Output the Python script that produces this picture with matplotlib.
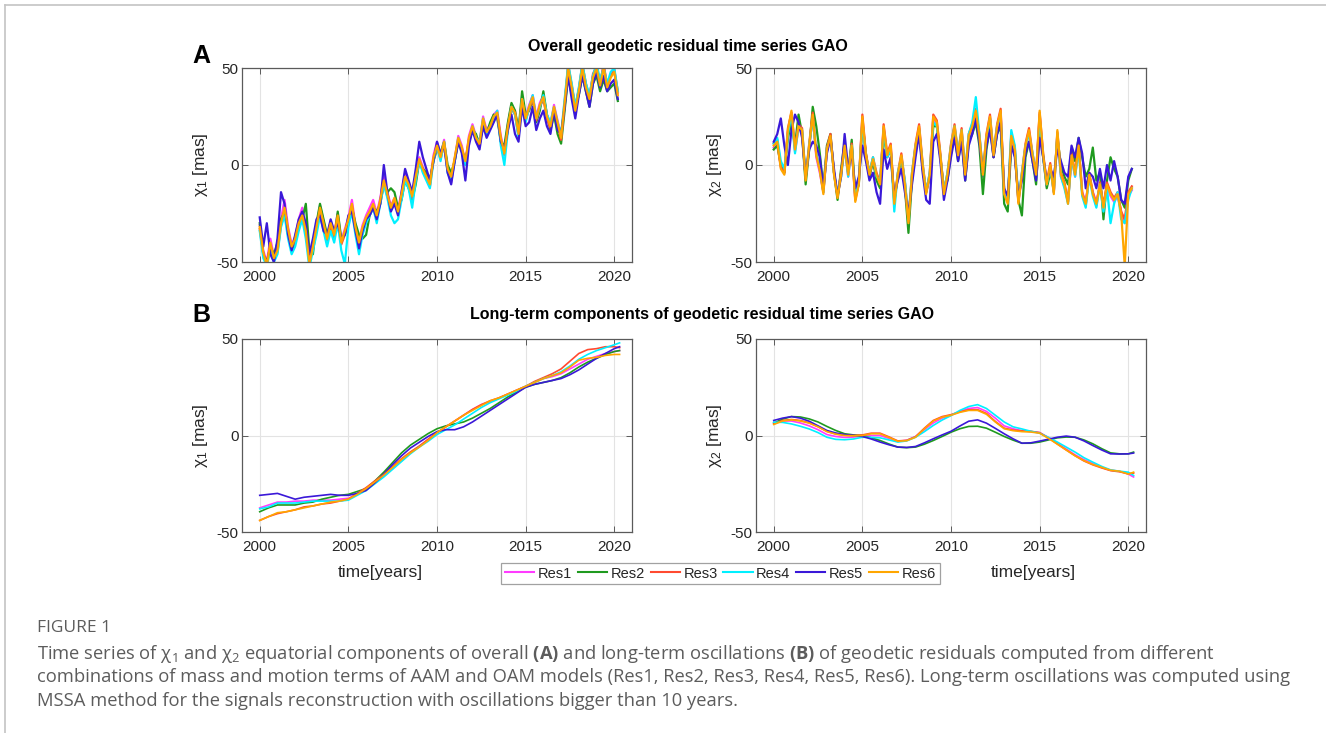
import numpy as np
import matplotlib
matplotlib.use('Agg')
import matplotlib.pyplot as plt
from matplotlib.lines import Line2D

# time axes
t_res = np.round(np.arange(2000.0, 2020.21, 0.2), 1)       # overall series
t_lt = np.append(np.arange(2000.0, 2020.01, 0.5), 2020.3)   # long-term components

names = ['Res1', 'Res2', 'Res3', 'Res4', 'Res5', 'Res6']
colors = ['#ff3cff', '#1f9a1f', '#ff4a30', '#00f0ff', '#3a18d8', '#ffa600']

# overall geodetic residuals, chi1 [mas]
res1_x1 = [-31, -44, -50, -38, -47, -43, -28, -18, -32, -41,
           -37, -28, -22, -33, -48, -41, -31, -21, -29, -37,
           -29, -35, -25, -39, -33, -27, -18, -31, -39, -31,
           -26, -22, -18, -25, -17, -6, -14, -21, -17, -23,
           -14, -4, -9, -15, -5, 4, -1, -5, -9, 5,
           12, 5, 13, -3, -9, 3, 15, 10, 1, 15,
           21, 15, 12, 25, 18, 21, 26, 28, 15, 7,
           21, 31, 28, 17, 35, 25, 31, 36, 25, 32,
           36, 26, 21, 31, 23, 15, 33, 50, 41, 29,
           39, 51, 41, 35, 46, 51, 42, 51, 41, 46,
           49, 37]
res2_x1 = [-30, -46, -50, -42, -46, -40, -28, -24, -36, -44,
           -40, -32, -28, -20, -44, -46, -30, -20, -28, -36,
           -32, -38, -24, -38, -36, -30, -22, -30, -36, -38,
           -36, -26, -22, -24, -20, -10, -14, -12, -14, -22,
           -18, -8, -12, -18, -10, 2, -2, -4, -8, 2,
           8, 6, 12, 0, -4, 2, 12, 8, 2, 12,
           18, 16, 10, 22, 16, 22, 26, 24, 12, 10,
           22, 32, 28, 18, 38, 26, 28, 34, 22, 28,
           38, 26, 18, 26, 16, 11, 28, 46, 36, 30,
           36, 46, 38, 30, 42, 46, 38, 44, 38, 40,
           42, 33]
res3_x1 = [-33, -46, -51, -41, -49, -45, -31, -24, -34, -43,
           -39, -31, -27, -35, -50, -43, -33, -24, -31, -39,
           -31, -37, -28, -41, -36, -29, -21, -33, -41, -33,
           -28, -25, -21, -27, -19, -9, -16, -23, -18, -25,
           -16, -7, -11, -17, -7, 2, -3, -7, -11, 3,
           9, 3, 11, -3, -7, 3, 13, 8, 1, 13,
           19, 13, 10, 23, 16, 19, 24, 26, 13, 5,
           19, 29, 26, 15, 33, 23, 29, 34, 23, 30,
           34, 24, 19, 29, 21, 13, 31, 52, 41, 30,
           39, 52, 42, 35, 47, 51, 42, 52, 41, 46,
           49, 38]
res4_x1 = [-34, -48, -52, -44, -50, -46, -32, -26, -38, -46,
           -42, -34, -28, -38, -53, -44, -36, -26, -34, -42,
           -34, -40, -30, -44, -51, -32, -24, -36, -46, -36,
           -30, -26, -22, -30, -20, -10, -17, -26, -30, -28,
           -18, -8, -12, -22, -8, 2, -4, -8, -12, 2,
           10, 2, 12, -4, -8, 2, 14, 8, 0, 12,
           20, 14, 12, 24, 16, 20, 24, 28, 10, 0,
           18, 30, 26, 14, 34, 22, 30, 36, 24, 30,
           36, 26, 22, 30, 22, 16, 34, 52, 42, 30,
           40, 52, 42, 36, 46, 52, 44, 50, 42, 48,
           50, 38]
res5_x1 = [-27, -42, -30, -46, -50, -38, -14, -20, -36, -44,
           -36, -28, -24, -30, -46, -38, -28, -26, -34, -36,
           -28, -34, -30, -38, -36, -26, -24, -34, -43, -34,
           -28, -26, -22, -28, -20, 0, -14, -24, -20, -26,
           -14, -2, -8, -14, -2, 12, 4, -2, -8, 2,
           12, 6, 10, -4, -10, 2, 12, 6, -8, 10,
           18, 12, 8, 20, 14, 18, 22, 26, 12, 8,
           18, 26, 16, 12, 30, 20, 22, 30, 18, 24,
           28, 20, 16, 28, 18, 16, 30, 46, 34, 24,
           36, 46, 38, 30, 42, 48, 40, 46, 38, 42,
           44, 34]
res6_x1 = [-32, -45, -52, -40, -48, -44, -30, -22, -33, -42,
           -38, -30, -26, -34, -51, -42, -32, -22, -30, -38,
           -30, -36, -26, -40, -34, -28, -20, -32, -40, -32,
           -27, -24, -20, -26, -18, -8, -15, -22, -17, -24,
           -15, -6, -10, -16, -6, 3, -2, -6, -10, 4,
           10, 4, 12, -2, -6, 4, 14, 9, 2, 14,
           20, 14, 11, 24, 17, 20, 25, 27, 14, 6,
           20, 30, 27, 16, 34, 24, 30, 35, 24, 31,
           35, 25, 20, 30, 22, 14, 32, 50, 40, 28,
           38, 50, 40, 34, 45, 50, 41, 50, 40, 45,
           48, 36]

# overall geodetic residuals, chi2 [mas]
res1_x2 = [9, 11, -1, -4, 17, 27, 7, 19, 17, -7,
           9, 25, 4, -4, -14, 7, 14, -4, -16, -4,
           9, -6, 9, -18, -9, 24, 4, -6, 2, -6,
           -9, 19, 4, 9, -19, -6, 4, -9, -28, -6,
           9, 19, -1, -14, -6, 24, 21, 4, -14, -6,
           9, 19, 4, 17, -6, 14, 19, 27, 14, -6,
           14, 24, 4, 19, 27, -14, -19, 14, 7, -19,
           -6, 9, 17, 4, -6, 26, 4, -11, -1, -14,
           16, -6, -11, -19, 4, -6, 9, -14, -19, -6,
           -14, -19, -11, -21, -11, -16, -19, -16, -24, -30,
           -16, -13]
res2_x2 = [8, 10, 0, -4, 14, 22, 10, 26, 16, -10,
           8, 30, 20, 6, -12, 10, 16, -4, -18, -2,
           12, -4, 13, -16, -10, 22, 6, -6, 2, -8,
           -12, 16, 4, 8, -18, -6, 4, -12, -35, -8,
           8, 18, -2, -14, -6, 20, 20, 4, -12, -8,
           6, 16, 2, 14, -8, 12, 16, 22, 10, -15,
           8, 20, 4, 16, 20, -20, -24, 10, 6, -18,
           -26, 4, 12, 2, -10, 20, 4, -12, -4, -10,
           14, 0, -6, -10, 8, 2, 14, 4, -6, -2,
           9, -8, -4, -28, -8, 4, -2, -6, -18, -22,
           -8, -2]
res3_x2 = [11, 13, -1, -4, 19, 27, 9, 21, 19, -7,
           11, 27, 6, -2, -14, 9, 16, -4, -16, -4,
           11, -4, 11, -18, -9, 26, 6, -4, 4, -4,
           -9, 21, 6, 11, -19, -4, 6, -9, -29, -4,
           11, 21, 1, -14, -4, 26, 23, 6, -14, -4,
           11, 21, 6, 19, -4, 16, 21, 29, 16, -4,
           16, 26, 6, 21, 29, -14, -19, 16, 9, -19,
           -4, 11, 19, 6, -4, 27, 6, -9, 1, -14,
           17, -4, -9, -19, 6, -4, 11, -14, -21, -4,
           -14, -21, -9, -21, -9, -14, -17, -14, -24, -28,
           -14, -11]
res4_x2 = [11, 14, 2, -2, 16, 26, 6, 20, 18, -6,
           10, 24, 6, -2, -14, 8, 14, -4, -15, -6,
           10, -6, 10, -16, -8, 22, 4, -4, 4, -6,
           -8, 18, 4, 8, -24, -4, 4, -8, -28, -4,
           10, 18, 0, -14, -4, 22, 20, 4, -14, -4,
           10, 20, 6, 18, -4, 16, 22, 35, 16, -4,
           14, 24, 6, 20, 26, -14, -18, 18, 10, -18,
           -4, 10, 16, 6, -6, 24, 4, -10, -2, -14,
           16, -6, -12, -20, 4, -6, 8, -16, -22, -6,
           -16, -22, -10, -24, -12, -30, -20, -14, -28, -30,
           -18, -12]
res5_x2 = [12, 16, 24, 10, 0, 18, 26, 22, 14, -6,
           8, 12, 10, 4, -12, 6, 14, -2, -16, -6,
           16, -2, 6, -12, -6, 10, 2, -8, -4, -14,
           -20, 8, -2, 4, -16, -8, -2, -14, -25, -10,
           4, 16, -4, -18, -20, 12, 16, 2, -18, -8,
           4, 14, 2, 12, -8, 10, 16, 24, 12, -4,
           10, 18, 4, 16, 22, -12, -16, 10, 4, -16,
           -8, 6, 12, 2, -8, 14, 4, -8, -2, -6,
           8, 2, -4, -6, 10, 4, 14, 6, -12, -4,
           -6, -12, -2, -12, 0, -8, 2, -6, -18, -20,
           -6, -2]
res6_x2 = [10, 12, -2, -5, 18, 28, 8, 20, 18, -8,
           10, 26, 5, -3, -15, 8, 15, -5, -17, -5,
           10, -5, 10, -19, -10, 25, 5, -5, 3, -5,
           -10, 20, 5, 10, -20, -5, 5, -10, -30, -5,
           10, 20, 0, -15, -5, 25, 22, 5, -15, -5,
           10, 20, 5, 18, -5, 15, 20, 28, 15, -5,
           15, 25, 5, 20, 28, -15, -20, 15, 8, -20,
           -5, 10, 18, 5, -5, 28, 5, -10, 0, -15,
           18, -5, -10, -20, 5, -5, 10, -15, -20, -5,
           -15, -20, -10, -22, -10, -15, -18, -15, -25, -52,
           -15, -12]

# long-term components (MSSA, > 10 years), chi1 [mas]
res1_lt1 = [-37.5, -36, -34.5, -34.5, -34, -34, -33.5, -33.5, -33.5, -33, -32.5,
            -30.5, -28, -24.5, -21, -17, -13, -9, -5.5, -2, 1.5, 4.5, 7.5, 10.5,
            13.5, 16, 17.5, 19.5, 21.5, 23.5, 25.5, 27.5, 29.5, 30.5, 32, 34.5,
            37, 39.5, 41, 42.5, 43.5, 44]
res2_lt1 = [-39.5, -37.5, -36, -36, -36, -35, -34.5, -33, -32, -31, -30.5,
            -29, -27.5, -23.5, -19, -14, -9, -5, -2, 1, 3.5, 5, 6, 7,
            9, 11.5, 14, 17, 20, 22.5, 25, 26.5, 27.5, 28.5, 30, 32.5,
            35.5, 38, 40, 42, 43.5, 44]
res3_lt1 = [-44, -42, -40.5, -39.5, -38.5, -37, -36.5, -35.5, -35, -34, -33,
            -30, -27, -23.5, -20, -16, -12, -8.5, -5.5, -2, 1.5, 4.5, 7.5, 10.5,
            13.5, 16, 18, 19.5, 21.5, 23.5, 25.5, 28, 30, 32, 34.5, 38.5,
            42.5, 44.5, 45, 46, 46, 45.5]
res4_lt1 = [-38, -37, -35, -35, -35, -34.5, -34, -34, -34, -34, -33.5,
            -31, -28.5, -25, -21.5, -17.5, -13.5, -9.5, -6, -3, 0.5, 3, 5.5, 8.5,
            11.5, 14.5, 17, 19, 21, 23, 25.5, 27.5, 29.5, 31, 33, 36,
            39.5, 42, 44, 45.5, 47, 48]
res5_lt1 = [-31, -30.5, -30, -31.5, -33, -32, -31.5, -31, -30.5, -31, -31,
            -30, -28.5, -24.5, -20, -15, -10.5, -6.5, -3.5, -0.5, 2, 3, 3, 4.5,
            7, 10, 13, 16, 19, 22, 25, 26.5, 27.5, 28.5, 29.5, 31.5,
            34, 37, 40, 42.5, 45, 46]
res6_lt1 = [-44, -42, -40, -39.5, -38.5, -37.5, -36.5, -35.5, -34.5, -34, -33,
            -30.5, -27.5, -24, -20.5, -16.5, -12.5, -9, -6, -2.5, 1.5, 4.5, 7.5, 10.5,
            13, 15.5, 18, 19.5, 21.5, 23.5, 25.5, 27.5, 29.5, 31, 32.5, 35.5,
            39, 40, 40.5, 41.5, 42, 42]

# long-term components (MSSA, > 10 years), chi2 [mas]
res1_lt2 = [6.5, 7.5, 7.5, 6.5, 5, 3, 0.5, -0.5, -1, -0.8, -0.3,
            0, 0, -1.5, -3, -2.5, -0.5, 3, 6.5, 9, 10.5, 12.5, 14, 14.5,
            12.5, 9, 5, 3.5, 2.5, 2, 1.5, -1, -4, -7, -10, -12.5,
            -14.5, -16.5, -18, -18.5, -20, -21.5]
res2_lt2 = [6.4, 8.5, 9.8, 9.6, 8.6, 7, 4.7, 2.6, 0.9, 0.3, 0,
            -1.2, -2.6, -4.4, -6, -6.3, -6, -4.5, -2.6, -0.5, 1.7, 3.5, 4.7, 4.8,
            3.8, 1.7, -0.5, -2.4, -4, -4, -3.4, -2.3, -1.2, -0.8, -0.9, -2.3,
            -4.3, -6.8, -9, -9.5, -9.5, -8.6]
res3_lt2 = [6, 7.8, 8.3, 7.8, 6.6, 4.6, 2.2, 0.8, 0.2, 0, 0.3,
            1.2, 1.2, -0.7, -2.8, -2.5, -0.6, 3.8, 7.8, 9.8, 10.8, 12.3, 13.3, 13.4,
            11.4, 7.3, 3.8, 2.8, 2.4, 2.2, 1.5, -1.3, -4.4, -7.5, -10.5, -13.2,
            -15.2, -16.8, -18.2, -18.8, -19.8, -19.5]
res4_lt2 = [6.9, 6.8, 6, 4.8, 3.4, 1.5, -0.9, -2, -2.2, -1.8, -0.9,
            -1, -1.2, -2.3, -3.4, -2.8, -0.9, 2, 5.2, 8, 10.3, 13, 15, 16,
            14, 10.5, 7, 4.5, 3.4, 2.2, 1.2, -1, -3.4, -6, -8.6, -11.5,
            -13.8, -16, -17.8, -18.5, -19, -20.7]
res5_lt2 = [7.8, 9, 9.8, 9, 7.4, 5, 2.6, 1.3, 0.5, 0, -0.5,
            -1.8, -3.4, -4.8, -6, -6.2, -5.7, -3.8, -1.7, 0.3, 2.2, 4.9, 7.4, 8.1,
            6.4, 3.7, 0.9, -1.7, -4, -3.8, -2.9, -1.9, -0.9, -0.3, -0.9, -2.8,
            -5.2, -7.5, -9.5, -9.6, -9.5, -9.1]
res6_lt2 = [5.7, 7.5, 8.1, 7.5, 6.4, 4.5, 2, 0.7, 0, -0.2, 0,
            0.9, 0.9, -1, -3, -2.7, -0.9, 3.5, 7.5, 9.5, 10.5, 12, 13, 13,
            11, 7, 3.5, 2.5, 2, 1.8, 1.2, -1.5, -4.5, -7.5, -10.5, -13,
            -15, -16.5, -18, -18.5, -20, -19]

overall_x1 = [res1_x1, res2_x1, res3_x1, res4_x1, res5_x1, res6_x1]
overall_x2 = [res1_x2, res2_x2, res3_x2, res4_x2, res5_x2, res6_x2]
longterm_x1 = [res1_lt1, res2_lt1, res3_lt1, res4_lt1, res5_lt1, res6_lt1]
longterm_x2 = [res1_lt2, res2_lt2, res3_lt2, res4_lt2, res5_lt2, res6_lt2]

plt.rcParams['font.family'] = ['Liberation Sans', 'DejaVu Sans']
plt.rcParams['axes.unicode_minus'] = False
plt.rcParams['mathtext.fontset'] = 'custom'
plt.rcParams['mathtext.rm'] = 'Open Sans'
plt.rcParams['mathtext.bf'] = 'Open Sans:bold'
plt.rcParams['mathtext.default'] = 'regular'

W, H = 1326, 733
fig = plt.figure(figsize=(W / 100, H / 100), dpi=100)
fig.patch.set_facecolor('white')


def px_axes(left, top, right, bottom):
    return fig.add_axes([left / W, 1 - bottom / H, (right - left) / W, (bottom - top) / H])


def style(ax, ylab):
    ax.set_xlim(1999, 2021)
    ax.set_ylim(-50, 50)
    ax.set_xticks([2000, 2005, 2010, 2015, 2020])
    ax.set_yticks([-50, 0, 50])
    ax.grid(True, color='#e3e3e3', linewidth=0.8)
    ax.set_axisbelow(True)
    for s in ax.spines.values():
        s.set_color('#5a5a5a')
        s.set_linewidth(0.9)
    ax.tick_params(direction='in', top=True, right=True, length=4, width=0.7,
                   color='#5a5a5a', labelsize=11, labelcolor='#262626')
    ax.tick_params(axis='x', pad=6)
    ax.tick_params(axis='y', pad=2.5)
    ax.set_ylabel(ylab, fontsize=12.5, color='#262626', labelpad=5)


ax_a1 = px_axes(242, 68, 632, 262)
ax_a2 = px_axes(756, 68, 1146, 262)
ax_b1 = px_axes(242, 339, 632, 532)
ax_b2 = px_axes(756, 339, 1146, 532)

for ax, series in [(ax_a1, overall_x1), (ax_a2, overall_x2)]:
    for y, c, n in zip(series, colors, names):
        ax.plot(t_res, y, color=c, lw=1.6, label=n)
for ax, series in [(ax_b1, longterm_x1), (ax_b2, longterm_x2)]:
    for y, c, n in zip(series, colors, names):
        ax.plot(t_lt, y, color=c, lw=1.2, label=n)

style(ax_a1, 'χ$_1$ [mas]')
style(ax_a2, 'χ$_2$ [mas]')
style(ax_b1, 'χ$_1$ [mas]')
style(ax_b2, 'χ$_2$ [mas]')

ax_b1.set_xlabel('time[years]', fontsize=12.5, color='#262626')
ax_b1.xaxis.set_label_coords((380 - 242) / 390, -0.17)
ax_b2.set_xlabel('time[years]', fontsize=12.5, color='#262626')
ax_b2.xaxis.set_label_coords((1033 - 756) / 390, -0.17)

# panel letters and titles
fig.text(192 / W, 1 - 63 / H, 'A', fontsize=18, fontweight='bold', va='baseline')
fig.text(192 / W, 1 - 322 / H, 'B', fontsize=18, fontweight='bold', va='baseline')
fig.text(688 / W, 1 - 46 / H, 'Overall geodetic residual time series GAO',
         fontsize=11.5, fontweight='bold', ha='center', va='center')
fig.text(702 / W, 1 - 314 / H, 'Long-term components of geodetic residual time series GAO',
         fontsize=11.5, fontweight='bold', ha='center', va='center')

handles = [Line2D([], [], color=c, lw=1.5) for c in colors]
leg = fig.legend(handles, names, loc='center', ncol=6,
                 bbox_to_anchor=(720.5 / W, 1 - 573.5 / H), fontsize=10.5,
                 frameon=True, fancybox=False, edgecolor='#8a8a8a',
                 handlelength=2.0, handletextpad=0.25, columnspacing=0.4,
                 borderpad=0.25, borderaxespad=0)
leg.get_frame().set_linewidth(0.9)
for txt in leg.get_texts():
    txt.set_color('#262626')

# caption block
cap_kw = dict(family=['Open Sans', 'DejaVu Sans'], color='#5c5c5c', va='center')
fig.text(37 / W, 1 - 628 / H, 'FIGURE 1', fontsize=12.5, **cap_kw)
caption = [
    'Time series of χ$_1$ and χ$_2$ equatorial components of overall $\\mathbf{(A)}$ and '
    'long-term oscillations $\\mathbf{(B)}$ of geodetic residuals computed from different',
    'combinations of mass and motion terms of AAM and OAM models (Res1, Res2, Res3, Res4, '
    'Res5, Res6). Long-term oscillations was computed using',
    'MSSA method for the signals reconstruction with oscillations bigger than 10 years.',
]
for i, line in enumerate(caption):
    fig.text(37 / W, 1 - (654 + 23.5 * i) / H, line, fontsize=13.2, **cap_kw)

# page border
fig.add_artist(Line2D([4.5 / W, 1], [1 - 4.5 / H, 1 - 4.5 / H], color='#c4c4c4', lw=1.2))
fig.add_artist(Line2D([4.5 / W, 4.5 / W], [0, 1 - 4.5 / H], color='#c4c4c4', lw=1.2))

fig.savefig('out.png', dpi=100)
